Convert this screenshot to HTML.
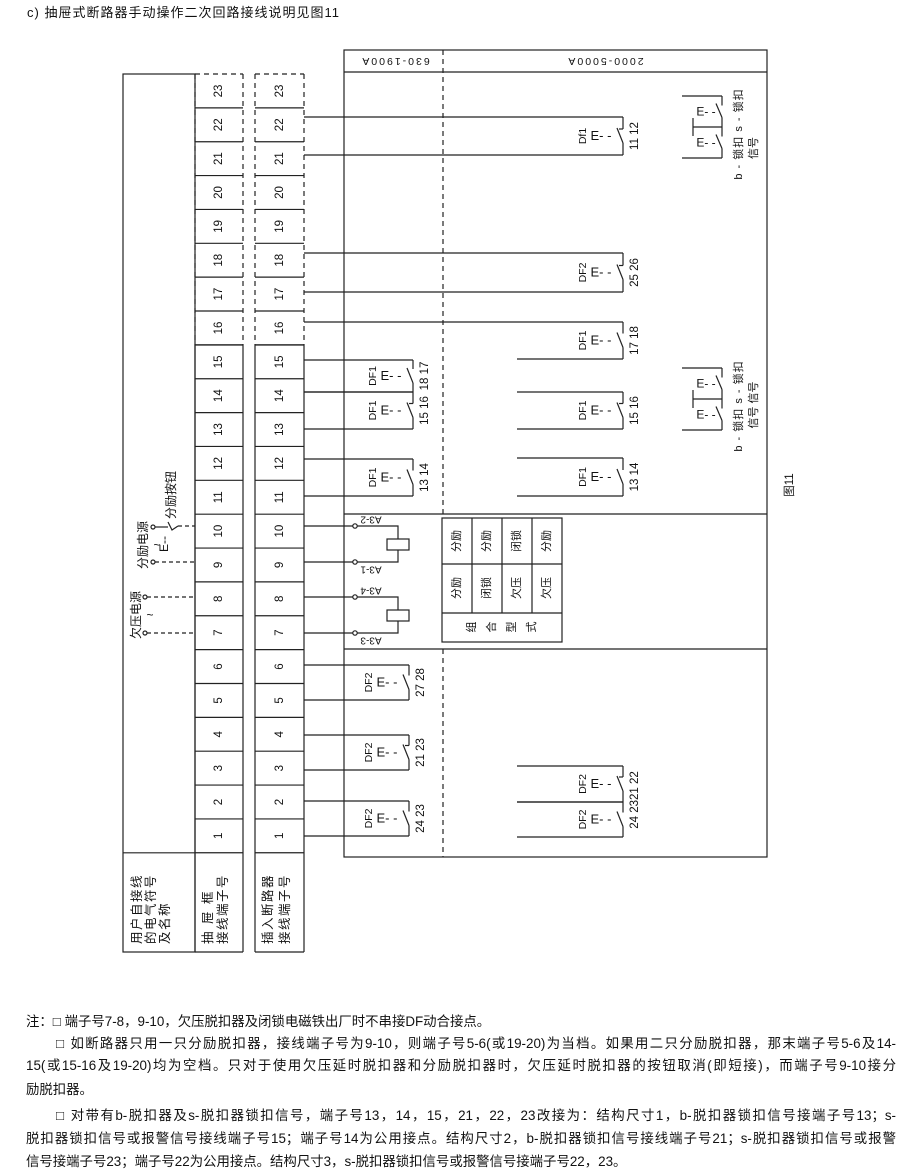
<!DOCTYPE html>
<html><head><meta charset="utf-8"><style>
body{margin:0;width:920px;height:1175px;background:#fff;position:relative;font-family:"Liberation Sans","Noto Sans CJK SC",sans-serif;color:#111;overflow:hidden}
.n{position:absolute;font-size:13.4px;line-height:20px;white-space:nowrap}
.j{text-align:justify;text-align-last:justify;white-space:normal}
svg text{font-family:"Liberation Sans","Noto Sans CJK SC",sans-serif;fill:#111}
</style></head><body>
<div class="n" style="left:27px;top:3px;font-size:13px;letter-spacing:1px">c) 抽屉式断路器手动操作二次回路接线说明见图11</div>
<svg width="920" height="1000" style="position:absolute;left:0;top:0" stroke="#222" stroke-width="1.2" fill="none">
<rect x="123" y="74" width="72" height="878"/>
<line x1="123" y1="852.8" x2="195" y2="852.8"/>
<line x1="195" y1="345" x2="195" y2="952"/><line x1="243" y1="345" x2="243" y2="952"/>
<line x1="255" y1="345" x2="255" y2="952"/><line x1="304" y1="345" x2="304" y2="952"/>
<line x1="195" y1="952" x2="243" y2="952"/><line x1="255" y1="952" x2="304" y2="952"/>
<g stroke-dasharray="5,4"><line x1="195" y1="74" x2="195" y2="345"/><line x1="243" y1="74" x2="243" y2="345"/><line x1="255" y1="74" x2="255" y2="345"/><line x1="304" y1="74" x2="304" y2="345"/>
<line x1="195" y1="74" x2="243" y2="74"/><line x1="255" y1="74" x2="304" y2="74"/></g>
<rect x="344" y="50" width="423" height="807"/>
<line x1="344" y1="72" x2="767" y2="72"/>
<line x1="344" y1="514" x2="767" y2="514"/>
<line x1="344" y1="649" x2="767" y2="649"/>
<g stroke-dasharray="5,4"><line x1="443" y1="50" x2="443" y2="514"/><line x1="443" y1="649" x2="443" y2="857"/></g>
<rect x="442" y="518" width="120" height="124"/>
<line x1="442" y1="564" x2="562" y2="564"/><line x1="442" y1="613" x2="562" y2="613"/>
<line x1="472" y1="518" x2="472" y2="613"/><line x1="502" y1="518" x2="502" y2="613"/><line x1="532" y1="518" x2="532" y2="613"/>
<g>
<polyline points="304,526 355,526"/><polyline points="304,562 355,562"/><polyline points="304,597 355,597"/><polyline points="304,633 355,633"/>
<circle cx="355" cy="526" r="2.2" fill="#fff"/><circle cx="355" cy="562" r="2.2" fill="#fff"/><circle cx="355" cy="597" r="2.2" fill="#fff"/><circle cx="355" cy="633" r="2.2" fill="#fff"/>
<polyline points="357,526 398,526 398,562 357,562"/><rect x="387" y="539" width="22" height="11" fill="#fff"/>
<polyline points="357,597 398,597 398,633 357,633"/><rect x="387" y="610" width="22" height="11" fill="#fff"/>
</g>
<g stroke-dasharray="4,3">
<line x1="147" y1="597" x2="195" y2="597"/><line x1="147" y1="633" x2="195" y2="633"/>
<line x1="155" y1="562" x2="195" y2="562"/><line x1="178" y1="526" x2="195" y2="526"/>
</g>
<circle cx="145" cy="597" r="2" fill="#fff"/><circle cx="145" cy="633" r="2" fill="#fff"/>
<circle cx="153" cy="527" r="2" fill="#fff"/><circle cx="153" cy="562" r="2" fill="#fff"/>
<polyline points="155,527 168,527"/><polyline points="168,522 172,530 178,526"/>
</svg>
<script>
const NS="http://www.w3.org/2000/svg";
const svg=document.querySelector('svg');
function el(t,a,txt){const e=document.createElementNS(NS,t);for(const k in a)e.setAttribute(k,a[k]);if(txt!==undefined)e.textContent=txt;svg.appendChild(e);return e;}
function T(k){return 74+(23-k)*33.86;}
function rt(x,y,s,fs,rot,anchor,extra){const a={x:x,y:y,'font-size':fs||11,'text-anchor':anchor||'middle','dominant-baseline':'central',transform:`rotate(${rot===undefined?-90:rot} ${x} ${y})`,stroke:'none'};if(extra)Object.assign(a,extra);return el('text',a,s);}
for(let k=1;k<=23;k++){const t=T(k),b=T(k-1);
 el('line',{x1:195,y1:b,x2:243,y2:b});el('line',{x1:255,y1:b,x2:304,y2:b});
 rt(219,(t+b)/2,String(k),11.5);rt(280,(t+b)/2,String(k),11.5);}
el('line',{x1:195,y1:345,x2:243,y2:345});el('line',{x1:255,y1:345,x2:304,y2:345});
function contact(x,y1,y2,xs1,xs2,lab,num,nc){
 el('line',{x1:xs1,y1:y1,x2:x,y2:y1});el('line',{x1:xs2,y1:y2,x2:x,y2:y2});
 const ym=(y1+y2)/2;
 el('line',{x1:x,y1:y1,x2:x,y2:ym-7});el('line',{x1:x,y1:ym+7,x2:x,y2:y2});
 el('line',{x1:x,y1:ym+7,x2:x-6,y2:ym-8});
 if(nc)el('line',{x1:x,y1:ym-7,x2:x-4,y2:ym-7});
 if(lab)rt(x-40,ym,lab,10.5);
 el('text',{x:x-22,y:ym+4,'font-size':13,'text-anchor':'middle',stroke:'none'},'E- -');
 if(num)rt(x+12,ym,num,11.5);
}
contact(413,360,392,304,304,'DF1','18 17');
contact(413,392,429,304,304,'DF1','15 16',true);
contact(413,459,496,304,304,'DF1','13 14');
contact(409,665,700,304,304,'DF2','27 28');
contact(409,735,770,304,304,'DF2','21 23',true);
contact(409,801,836,304,304,'DF2','24 23');
contact(623,117,155,304,304,'Df1','11 12',true);
contact(623,253,292,304,304,'DF2','25 26',true);
contact(623,322,359,304,517,'DF1','17 18');
contact(623,392,429,517,517,'DF1','15 16',true);
contact(623,458,496,517,517,'DF1','13 14');
contact(623,766,802,517,517,'DF2','',true);
contact(623,802,837,517,517,'DF2','',false);
rt(635,800,'24  2321  22',11.5);
function grp(y0){const y1=y0,y2=y0+31,y3=y0+62,x=722;
 el('line',{x1:682,y1:y1,x2:x,y2:y1});el('line',{x1:682,y1:y3,x2:x,y2:y3});el('line',{x1:693,y1:y2,x2:x,y2:y2});el('line',{x1:693,y1:y1+22,x2:693,y2:y3-22});
 for(const [a,b] of [[y1,y2],[y2,y3]]){const m=(a+b)/2;el('line',{x1:x,y1:a,x2:x,y2:m-6});el('line',{x1:x,y1:m+6,x2:x,y2:b});el('line',{x1:x,y1:m+6,x2:x-6,y2:m-8});
 el('text',{x:x-16,y:m+4,'font-size':12,'text-anchor':'middle',stroke:'none'},'E- -');}
 rt(739,y0+38,'b - 锁扣   s - 锁扣',11,-90,'middle',{'letter-spacing':'1'});}
grp(96);grp(368);
rt(754,148,'信号',11);rt(754,405,'信号  信号',11);
rt(790,485,'图11',11.5);
const r1=['分励','分励','闭锁','分励'],r2=['分励','闭锁','欠压','欠压'];
for(let i=0;i<4;i++){rt(457+30*i,541,r1[i],11);rt(457+30*i,588,r2[i],11);}
['组','合','型','式'].forEach((c,i)=>rt(472+20*i,627,c,11));
rt(395,61,'630-1900A',10.5,180,'middle',{'letter-spacing':'2'});
rt(605,61,'2000-5000A',10.5,180,'middle',{'letter-spacing':'2'});
rt(371,519,'A3-2',10,180);rt(371,569,'A3-1',10,180);rt(371,590,'A3-4',10,180);rt(371,640,'A3-3',10,180);
rt(136,615,'欠压电源',12);rt(150,615,'~',12,0);
rt(143,545,'分励电源',12);rt(157,545,'~',12,0);
rt(164,544,'E--',12);rt(171,495,'分励按钮',12);
function col(x,s){rt(x,944,s,12.5,-90,'start',{'letter-spacing':'1.5'});}
col(137,'用户自接线');col(151,'的电气符号');col(165,'及名称');
rt(208,944,'抽  屉  框',12.5,-90,'start',{'letter-spacing':'2'});col(223,'接线端子号');
col(268,'插入断路器');col(285,'接线端子号');
</script>
<div class="n" style="left:26px;top:1012px">注：□ 端子号7-8，9-10，欠压脱扣器及闭锁电磁铁出厂时不串接DF动合接点。</div>
<div class="n j" style="left:56px;top:1034px;width:840px">□ 如断路器只用一只分励脱扣器，接线端子号为9-10，则端子号5-6(或19-20)为当档。如果用二只分励脱扣器，那末端子号5-6及14-</div>
<div class="n j" style="left:26px;top:1056px;width:870px">15(或15-16及19-20)均为空档。只对于使用欠压延时脱扣器和分励脱扣器时，欠压延时脱扣器的按钮取消(即短接)，而端子号9-10接分</div>
<div class="n" style="left:26px;top:1080px">励脱扣器。</div>
<div class="n j" style="left:56px;top:1106px;width:840px">□ 对带有b-脱扣器及s-脱扣器锁扣信号，端子号13，14，15，21，22，23改接为：结构尺寸1，b-脱扣器锁扣信号接端子号13；s-</div>
<div class="n j" style="left:26px;top:1129px;width:870px">脱扣器锁扣信号或报警信号接线端子号15；端子号14为公用接点。结构尺寸2，b-脱扣器锁扣信号接线端子号21；s-脱扣器锁扣信号或报警</div>
<div class="n" style="left:26px;top:1152px">信号接端子号23；端子号22为公用接点。结构尺寸3，s-脱扣器锁扣信号或报警信号接端子号22，23。</div>
</body></html>
